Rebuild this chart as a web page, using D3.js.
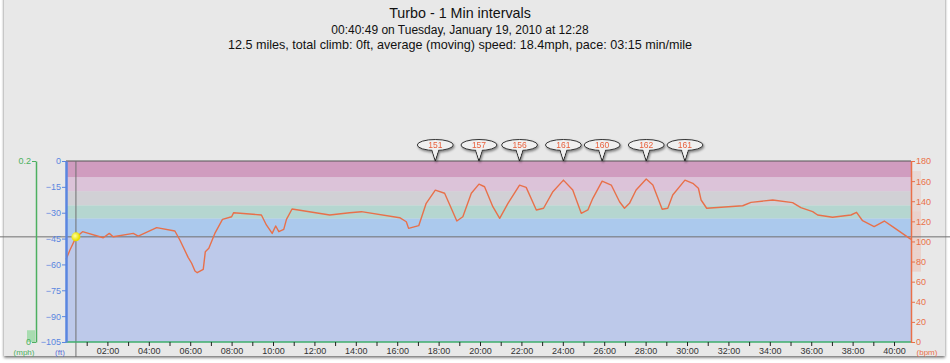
<!DOCTYPE html>
<html>
<head>
<meta charset="utf-8">
<script src="https://cdn.jsdelivr.net/npm/d3@7"></script>
<style>
    body { margin: 0; background: #fff; }
    svg { display: block; font-family: "Liberation Sans", Arial, sans-serif; }
</style>
</head>
<body>
<svg id="chart" width="950" height="363"></svg>
<script>
const titleLines = [
    "Turbo - 1 Min intervals",
    "00:40:49 on Tuesday, January 19, 2010 at 12:28",
    "12.5 miles, total climb: 0ft, average (moving) speed: 18.4mph, pace: 03:15 min/mile"
];

const duration = 40.82; // minutes

// heart rate trace (minute, bpm)
const hrMinutes = [0, 0.19, 0.48, 0.8, 1.8, 2.09, 2.28, 3.25, 3.49, 4.38, 5.26, 5.5, 5.9, 6.07, 6.23, 6.34, 6.63, 6.73, 6.9, 7.19,
    7.56, 8.0, 8.1, 9.44, 9.68, 9.96, 10.13, 10.28, 10.52, 10.65, 10.92, 12.74, 13.7, 14.27, 16.12, 16.44, 16.55, 17.04, 17.4, 17.84,
    18.29, 18.61, 18.88, 19.17, 19.58, 19.95, 20.22, 20.62, 20.95, 21.35, 21.91, 22.23, 22.72, 23.07, 23.52, 24.03, 24.48, 24.89, 25.21, 25.45,
    25.9, 26.34, 26.74, 26.98, 27.22, 27.54, 28.03, 28.35, 28.8, 29.07, 29.31, 29.9, 30.28, 30.55, 30.68, 30.95, 32.69, 33.09, 34.14, 35.1,
    35.5, 36.07, 36.31, 37.03, 37.92, 38.19, 38.48, 39.04, 39.53, 39.93, 40.82];
const hrValues = [82, 91.5, 104, 109.7, 103.7, 108, 104.7, 108, 105.4, 113.7, 110.4, 101.4, 84.2, 78.3, 70.6, 68.9, 72.3, 89.8, 93.2, 108,
    122, 124.6, 128.6, 126.3, 116.4, 108, 115.4, 109.7, 112, 122, 132.3, 126.3, 128.6, 129.6, 123.6, 119.6, 113, 115.7, 137.9, 151,
    147.9, 133, 120.3, 124.6, 147.9, 157, 154.4, 134.6, 123, 137.9, 156, 153.8, 131.3, 133, 149.5, 161, 151.2, 128, 131.3, 142.9,
    160, 156.1, 139.5, 133, 137.9, 151.2, 162, 156.1, 132, 133, 146.2, 161, 157.8, 152.9, 141.2, 133, 135.5, 138.9, 141.2, 138.6,
    133.6, 129.6, 126.3, 124, 126.3, 129, 120.6, 114.7, 120.3, 114.7, 102];

// altitude (ft) and speed (mph) - flat on the turbo
const altMinutes = [0, 40.82];
const altValues = [-44, -44];
const speedMinutes = [0, 40.82];
const speedValues = [0, 0];

// heart rate zones (bpm)
const zoneBounds = [0, 123, 136, 150, 164, 180];
const zoneColors = ["#abc9ed", "#b5d6d0", "#d1d0d5", "#dcc3d9", "#d09cbf"];

// interval peaks
const peakMinutes = [17.84, 19.95, 21.91, 24.03, 25.9, 28.03, 29.9];
const peakValues = [151, 157, 156, 161, 160, 162, 161];

// side histograms
const hrHistLow = [70, 80, 90, 100, 110, 120, 130, 140, 150, 160];
const hrHistCount = [6, 6, 6, 6, 6, 6, 4, 4, 4, 4];
const speedHistLow = [0];
const speedHistCount = [1];

const ftTicks = [0, -15, -30, -45, -60, -75, -90, -105];
const bpmTicks = [0, 20, 40, 60, 80, 100, 120, 140, 160, 180];
const mphTicks = [0, 0.2];
const cursorMinute = 0.48;

const svg = d3.select("#chart");
const plotLeft = 66, plotRight = 911, plotTop = 161, plotBottom = 342;

const x = d3.scaleLinear().domain([0, duration]).range([plotLeft, plotRight]);
const yHr = d3.scaleLinear().domain([0, 180]).range([plotBottom, plotTop]);
const yFt = d3.scaleLinear().domain([-105, 0]).range([plotBottom, plotTop]);
const yMph = d3.scaleLinear().domain([0, 0.2]).range([plotBottom, plotTop]);

const defs = svg.append("defs");
const shadow = defs.append("filter").attr("id", "shadow")
    .attr("x", "-5%").attr("y", "-5%").attr("width", "110%").attr("height", "110%");
shadow.append("feDropShadow").attr("dx", 0).attr("dy", 1.5).attr("stdDeviation", 1.5)
    .attr("flood-color", "#000").attr("flood-opacity", 0.6);
const bubbleShadow = defs.append("filter").attr("id", "bshadow")
    .attr("x", "-30%").attr("y", "-30%").attr("width", "160%").attr("height", "160%");
bubbleShadow.append("feDropShadow").attr("dx", 1).attr("dy", 1.5).attr("stdDeviation", 1)
    .attr("flood-color", "#000").attr("flood-opacity", 0.45);
const dotGrad = defs.append("radialGradient").attr("id", "dot").attr("cx", "40%").attr("cy", "40%");
dotGrad.append("stop").attr("offset", "0%").attr("stop-color", "#ffffa0");
dotGrad.append("stop").attr("offset", "100%").attr("stop-color", "#e8e000");

// panel
svg.append("rect")
    .attr("x", 4).attr("y", -10).attr("width", 941).attr("height", 366)
    .attr("fill", "#e8e8e8").attr("filter", "url(#shadow)");

// titles
svg.append("g").selectAll("text")
    .data(titleLines)
    .enter()
    .append("text")
    .attr("x", 460)
    .attr("y", (d, i) => [18, 34, 49][i])
    .attr("text-anchor", "middle")
    .attr("font-size", (d, i) => [14.3, 12, 12.6][i])
    .attr("fill", "#111")
    .text(d => d);

// zones
svg.append("g").selectAll("rect")
    .data(zoneColors)
    .enter()
    .append("rect")
    .attr("x", plotLeft)
    .attr("width", plotRight - plotLeft)
    .attr("y", (d, i) => yHr(zoneBounds[i + 1]))
    .attr("height", (d, i) => yHr(zoneBounds[i]) - yHr(zoneBounds[i + 1]))
    .attr("fill", d => d);

// altitude area
const altData = altMinutes.map((m, i) => ({m, v: altValues[i]}));
svg.append("path")
    .datum(altData)
    .attr("fill", "#bdc9ea")
    .attr("d", d3.area().x(d => x(d.m)).y0(plotBottom).y1(d => yFt(d.v)));

// top frame
svg.append("line")
    .attr("x1", plotLeft).attr("x2", plotRight).attr("y1", plotTop).attr("y2", plotTop)
    .attr("stroke", "#555").attr("stroke-width", 1.2);

// heart rate histogram (right)
svg.append("g").selectAll("rect")
    .data(hrHistLow)
    .enter()
    .append("rect")
    .attr("x", plotRight)
    .attr("y", d => yHr(d + 10))
    .attr("width", 10)
    .attr("height", d => yHr(d) - yHr(d + 10))
    .attr("fill", "#f2a08a")
    .attr("opacity", (d, i) => hrHistCount[i] * 0.05);

// speed histogram (left)
const histW = d3.scaleLinear().domain([0, 1]).range([0, 8]);
svg.append("g").selectAll("rect")
    .data(speedHistLow)
    .enter()
    .append("rect")
    .attr("x", (d, i) => 35 - histW(speedHistCount[i]))
    .attr("y", d => yMph(d + 0.013))
    .attr("width", (d, i) => histW(speedHistCount[i]))
    .attr("height", d => yMph(d) - yMph(d + 0.013))
    .attr("fill", "#a8dcb0");

// crosshair
svg.append("line")
    .attr("x1", 0).attr("x2", 950)
    .attr("y1", yFt(altValues[0])).attr("y2", yFt(altValues[0]))
    .attr("stroke", "#707070").attr("stroke-width", 1);
svg.append("line")
    .attr("x1", x(cursorMinute)).attr("x2", x(cursorMinute))
    .attr("y1", plotTop).attr("y2", 357)
    .attr("stroke", "#707070").attr("stroke-width", 1);

// heart rate line
const hrData = hrMinutes.map((m, i) => ({m, v: hrValues[i]}));
svg.append("path")
    .datum(hrData)
    .attr("fill", "none")
    .attr("stroke", "#e8704a")
    .attr("stroke-width", 1.4)
    .attr("stroke-linejoin", "round")
    .attr("d", d3.line().x(d => x(d.m)).y(d => yHr(d.v)));

// speed line
const speedData = speedMinutes.map((m, i) => ({m, v: speedValues[i]}));
svg.append("path")
    .datum(speedData)
    .attr("fill", "none")
    .attr("stroke", "#3fae6c")
    .attr("stroke-width", 1.6)
    .attr("d", d3.line().x(d => x(d.m)).y(d => yMph(d.v)));

// axes
const styleAxis = (g, color, width) => {
    g.select(".domain").attr("stroke", color).attr("stroke-width", width);
    g.selectAll(".tick line").attr("stroke", color);
    g.selectAll(".tick text").attr("fill", color).attr("font-size", 9)
        .attr("font-family", "'Liberation Sans', Arial, sans-serif");
};

svg.append("g")
    .attr("transform", `translate(${plotLeft},0)`)
    .call(d3.axisLeft(yFt).tickValues(ftTicks).tickSize(4).tickSizeOuter(0).tickPadding(1))
    .call(g => styleAxis(g, "#5a86e0", 2.5));

svg.append("g")
    .attr("transform", `translate(${plotRight},0)`)
    .call(d3.axisRight(yHr).tickValues(bpmTicks).tickSize(4).tickSizeOuter(0).tickPadding(1))
    .call(g => styleAxis(g, "#ea7048", 1.5));

svg.append("g")
    .attr("transform", "translate(36,0)")
    .call(d3.axisLeft(yMph).tickValues(mphTicks).tickFormat(d3.format(".1~f")).tickSize(4).tickSizeOuter(0).tickPadding(1))
    .call(g => styleAxis(g, "#4cb060", 1.5));

const xAxis = svg.append("g")
    .attr("transform", `translate(0,${plotBottom})`)
    .call(d3.axisBottom(x)
        .tickValues(d3.range(1, 41))
        .tickSize(4)
        .tickSizeOuter(0)
        .tickPadding(2)
        .tickFormat(d => d % 2 === 0 ? d3.format("02")(d) + ":00" : ""));
xAxis.select(".domain").remove();
xAxis.selectAll(".tick line").attr("stroke", "#222");
xAxis.selectAll(".tick text").attr("fill", "#333").attr("font-size", 9)
    .attr("font-family", "'Liberation Sans', Arial, sans-serif");

// unit labels
svg.append("g").selectAll("text")
    .data([{t: "(mph)", x: 24, c: "#4cb060"}, {t: "(ft)", x: 60, c: "#5a6fd6"}, {t: "(bpm)", x: 927, c: "#ea7048"}])
    .enter()
    .append("text")
    .attr("x", d => d.x)
    .attr("y", 355)
    .attr("text-anchor", "middle")
    .attr("font-size", 8)
    .attr("fill", d => d.c)
    .text(d => d.t);

// cursor dot
svg.append("circle")
    .attr("cx", x(cursorMinute))
    .attr("cy", yFt(altValues[0]))
    .attr("r", 4.5)
    .attr("fill", "url(#dot)");

// peak bubbles
const bubbles = svg.append("g").selectAll("g")
    .data(peakMinutes)
    .enter()
    .append("g")
    .attr("transform", d => `translate(${x(d)},0)`)
    .attr("filter", "url(#bshadow)");

bubbles.append("path")
    .attr("d", "M-4,148 L0,161 L4,148 Z")
    .attr("fill", "#f0f0f0")
    .attr("stroke", "#222")
    .attr("stroke-width", 1);
bubbles.append("ellipse")
    .attr("cx", 0).attr("cy", 145)
    .attr("rx", 18).attr("ry", 5.5)
    .attr("fill", "#f0f0f0")
    .attr("stroke", "#333")
    .attr("stroke-width", 1);
bubbles.append("path")
    .attr("d", "M-3.3,149 L0,159 L3.3,149 Z")
    .attr("fill", "#f0f0f0");
bubbles.append("text")
    .attr("x", 0).attr("y", 148.3)
    .attr("text-anchor", "middle")
    .attr("font-size", 8.5)
    .attr("fill", "#e8603c")
    .text((d, i) => peakValues[i]);
</script>
</body>
</html>
